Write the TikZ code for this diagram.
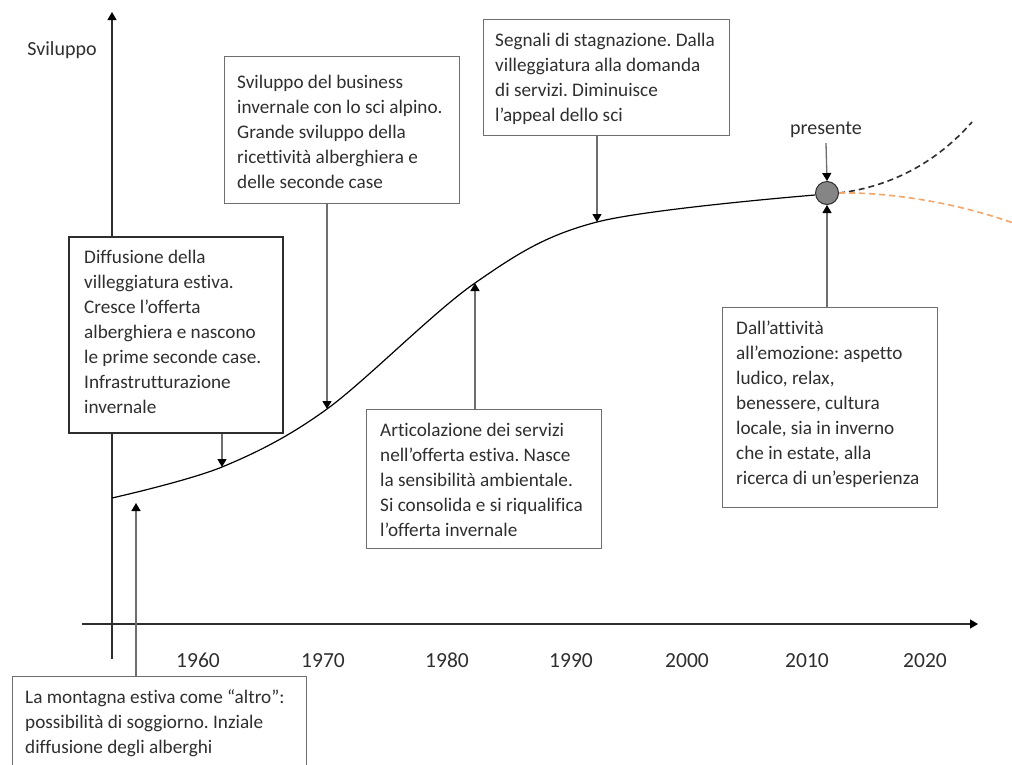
\documentclass[tikz,border=0pt]{standalone}
\usepackage{fontspec}
\setmainfont{Carlito}[Ligatures={TeX,NoCommon}]
\usetikzlibrary{arrows.meta}
\definecolor{txt}{HTML}{2F2F2F}
\definecolor{lin}{HTML}{6E6E6E}
\definecolor{dark}{HTML}{2E2E2E}
\definecolor{orng}{HTML}{F4A66A}
\definecolor{dotfill}{HTML}{858585}
\frenchspacing

\begin{document}
\begin{tikzpicture}[x=1pt,y=-1pt,
  frame/.style={draw=lin, line width=1.3pt, fill=white, inner sep=0pt, anchor=north west},
  boldframe/.style={frame, draw=dark, line width=2pt},
  % anchored at the baseline of the last line
  boxtext/.style={anchor=base west, align=left, inner sep=0pt, text=txt,
    font=\fontsize{19.2}{25}\selectfont},
  lab/.style={text=txt, inner sep=0pt, font=\fontsize{20}{24}\selectfont},
  yearlab/.style={lab, anchor=base, font=\fontsize{21.5}{24}\selectfont},
  axis/.style={draw=dark, line width=1.2pt},
  tip/.style={-{Triangle[width=9pt,length=8pt,color=black]}},
  conn/.style={draw=lin, line width=1.3pt, tip},
  curve/.style={draw=black, line width=1.2pt},
  fut/.style={line width=1.6pt, dash pattern=on 6pt off 4pt}]

\useasboundingbox (0,0) rectangle (1012,764);
\clip (0,0) rectangle (1012,764);
\fill[white] (0,0) rectangle (1012,764);

% axes
\coordinate (ybot) at (112,659);
\coordinate (ytop) at (112,12);
\coordinate (xl) at (82,624);
\coordinate (xr) at (978,624);
\draw[axis, tip] (ybot) -- (ytop);
\draw[axis, tip] (xl) -- (xr);
\node[lab] (ylab) at (62,50) {Sviluppo};

% years
\foreach \yr/\xx in {1960/198, 1970/323, 1980/447, 1990/571, 2000/687, 2010/807, 2020/925}
  \node[yearlab] (y\yr) at (\xx,667) {\yr};

% points on the development curve
\coordinate (p0) at (112,498);
\coordinate (p1) at (222,467);
\coordinate (p2) at (327,409);
\coordinate (p3) at (475,283);
\coordinate (p4) at (597,222);
\coordinate (p5) at (815,195);
\draw[curve] plot[smooth, tension=0.55] coordinates {(p0) (p1) (p2) (p3) (p4) (p5)};

% present
\node[circle, draw=dark, fill=dotfill, line width=1pt, minimum size=23pt, inner sep=0pt] (now) at (827,193) {};
\node[lab] (pres) at (826,130) {presente};
\draw[conn] (826,143) -- (now.north);

% scenarios
\coordinate (up) at (972,122);
\coordinate (down) at (1016,224);
\draw[fut, draw=dark] (now.east) .. controls (880,188) and (930,170) .. (up);
\draw[fut, draw=orng] (now.east) .. controls (880,192) and (950,200) .. (down);

% boxes
\node[frame, minimum width=294pt, minimum height=120pt] (b0) at (12,676) {};
\node[boxtext] (t0) at (25,753) {La montagna estiva come “altro”:\\possibilità di soggiorno. Inziale\\diffusione degli alberghi};
\draw[conn] (b0.north -| 136,0) -- (136,503);

\node[boldframe, minimum width=214pt, minimum height=196pt] (b1) at (68,236) {};
\node[boxtext] (t1) at (84,413) {Diffusione della\\villeggiatura estiva.\\Cresce l’offerta\\alberghiera e nascono\\le prime seconde case.\\Infrastrutturazione\\invernale};
\draw[conn] (p1 |- b1.south) -- (p1);

\node[frame, minimum width=235pt, minimum height=147pt] (b2) at (224,56) {};
\node[boxtext] (t2) at (237,188) {Sviluppo del business\\invernale con lo sci alpino.\\Grande sviluppo della\\ricettività alberghiera e\\delle seconde case};
\draw[conn] (p2 |- b2.south) -- (p2);

\node[frame, minimum width=235pt, minimum height=139pt] (b3) at (366,409) {};
\node[boxtext] (t3) at (380,536) {Articolazione dei servizi\\nell’offerta estiva. Nasce\\la sensibilità ambientale.\\Si consolida e si riqualifica\\l’offerta invernale};
\draw[conn] (p3 |- b3.north) -- (p3);

\node[frame, minimum width=246pt, minimum height=116pt] (b4) at (483,19) {};
\node[boxtext] (t4) at (495,121) {Segnali di stagnazione. Dalla\\villeggiatura alla domanda\\di servizi. Diminuisce\\l’appeal dello sci};
\draw[conn] (p4 |- b4.south) -- (p4);

\node[frame, minimum width=215pt, minimum height=200pt] (b5) at (722,307) {};
\node[boxtext] (t5) at (736,484) {Dall’attività\\all’emozione: aspetto\\ludico, relax,\\benessere, cultura\\locale, sia in inverno\\che in estate, alla\\ricerca di un’esperienza};
\draw[conn] (now.south |- b5.north) -- (now.south);
\end{tikzpicture}
\end{document}
